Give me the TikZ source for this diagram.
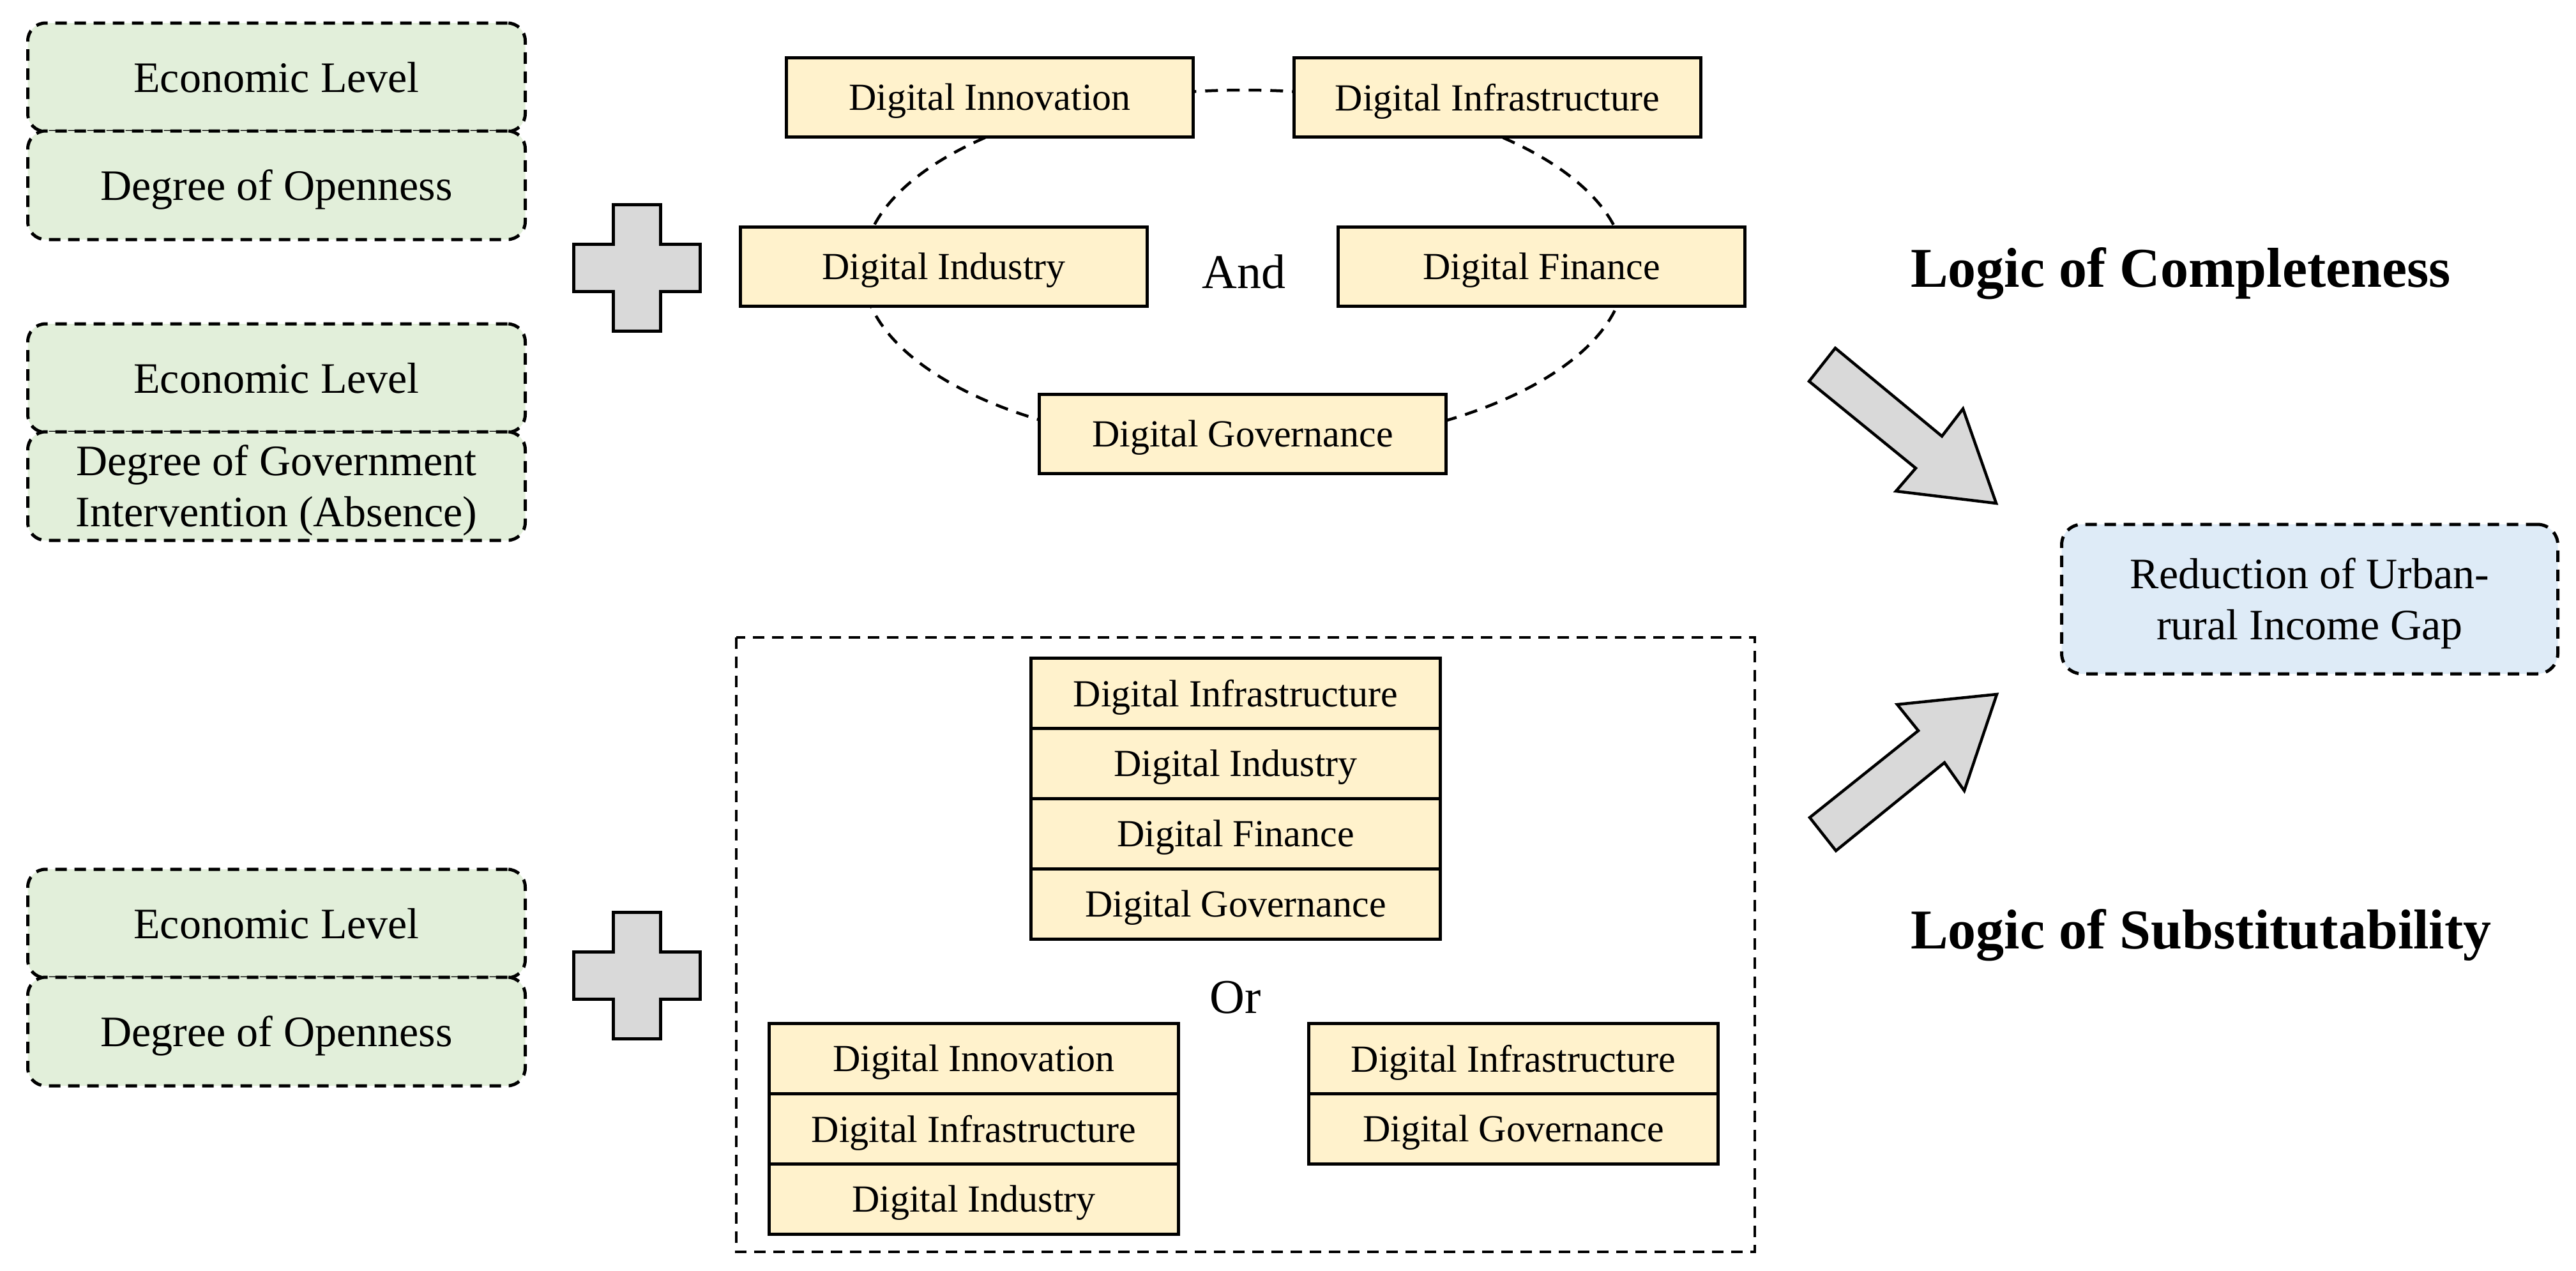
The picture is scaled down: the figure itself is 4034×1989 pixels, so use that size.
\documentclass[tikz,border=0pt]{standalone}
\usepackage{fontspec}
\setmainfont{Liberation Serif}
\definecolor{greenfill}{HTML}{E2EFDA}
\definecolor{yellowfill}{HTML}{FFF2CC}
\definecolor{bluefill}{HTML}{DEEBF7}
\definecolor{greyfill}{HTML}{D9D9D9}
\begin{document}
\begin{tikzpicture}[x=1pt,y=-1pt,
  greenbox/.style={draw, dash pattern=on 18pt off 12pt, line width=5pt, rounded corners=28pt, fill=greenfill, minimum width=779pt, minimum height=170pt, font=\fontsize{68}{80}\selectfont, align=center, inner sep=0pt, text depth=0pt},
  bluebox/.style={draw, dash pattern=on 18pt off 12pt, line width=5pt, rounded corners=32pt, fill=bluefill, minimum width=777pt, minimum height=234pt, font=\fontsize{68}{80}\selectfont, align=center, inner sep=0pt, text depth=0pt},
  ybox/.style={draw, line width=5pt, fill=yellowfill, minimum width=637pt, minimum height=124pt, font=\fontsize{60}{72}\selectfont, inner sep=0pt, text depth=0pt},
  srow/.style={ybox, minimum width=641pt, minimum height=110pt},
  bigword/.style={font=\fontsize{76}{90}\selectfont, inner sep=0pt},
  logic/.style={font=\fontsize{88}{100}\selectfont\bfseries, inner sep=0pt, anchor=west, text depth=0pt},
  plusshape/.style={draw, line width=5pt, fill=greyfill, line join=miter},
  blockarrow/.style={draw, line width=4.5pt, fill=greyfill, line join=miter},
  ring/.style={draw, line width=4.5pt, dash pattern=on 20pt off 14pt}
]
\useasboundingbox (0,0) rectangle (4034,1989);

% left green boxes
\node[greenbox] (a1) at (433,121) {Economic Level};
\node[greenbox] (a2) at (433,290) {Degree of Openness};
\node[greenbox] (b1) at (433,592) {Economic Level};
\node[greenbox] (b2) at (433,761) {Degree of Government\\Intervention (Absence)};
\node[greenbox] (c1) at (433,1446) {Economic Level};
\node[greenbox] (c2) at (433,1615) {Degree of Openness};

% plus signs
\begin{scope}[shift={(997,419)}]
\coordinate (plus1) at (0,0);
\draw[plusshape] (-37,-99) -- (37,-99) -- (37,-37) -- (99,-37) -- (99,37) -- (37,37) -- (37,99) -- (-37,99) -- (-37,37) -- (-99,37) -- (-99,-37) -- (-37,-37) -- cycle;
\end{scope}
\begin{scope}[shift={(997,1527)}]
\coordinate (plus2) at (0,0);
\draw[plusshape] (-37,-99) -- (37,-99) -- (37,-37) -- (99,-37) -- (99,37) -- (37,37) -- (37,99) -- (-37,99) -- (-37,37) -- (-99,37) -- (-99,-37) -- (-37,-37) -- cycle;
\end{scope}

% completeness ring
\coordinate (ringc) at (1948,421);
\draw[ring] (ringc) ellipse (597 and 280);
\node[ybox] (innov) at (1550,152) {Digital Innovation};
\node[ybox] (infra) at (2345,152) {Digital Infrastructure};
\node[ybox] (indus) at (1478,417) {Digital Industry};
\node[ybox] (finan) at (2414,417) {Digital Finance};
\node[ybox] (gover) at (1946,679) {Digital Governance};
\node[bigword] (and) at (1948,425) {And};

% substitutability frame
\draw[line width=4.5pt, dash pattern=on 18pt off 12pt] (1153,998) rectangle (2748,1960);
\node[srow] (s11) at (1935,1085) {Digital Infrastructure};
\node[srow] (s12) at (1935,1195) {Digital Industry};
\node[srow] (s13) at (1935,1305) {Digital Finance};
\node[srow] (s14) at (1935,1415) {Digital Governance};
\node[bigword] (or) at (1935,1562) {Or};
\node[srow] (s21) at (1525,1657) {Digital Innovation};
\node[srow] (s22) at (1525,1767) {Digital Infrastructure};
\node[srow] (s23) at (1525,1877) {Digital Industry};
\node[srow] (s31) at (2370,1657) {Digital Infrastructure};
\node[srow] (s32) at (2370,1767) {Digital Governance};

% logic labels
\node[logic] (lc) at (2992,419) {Logic of Completeness};
\node[logic] (ls) at (2992,1454) {Logic of Substitutability};

% outcome
\node[bluebox] (gap) at (3617,938) {Reduction of Urban-\\rural Income Gap};

% block arrows
\draw[blockarrow] (2874,545) -- (3041,683) -- (3074,640) -- (3126,788) -- (2969,769) -- (3000,733) -- (2833,597) -- cycle;
\draw[blockarrow] (2834,1280) -- (3004,1144) -- (2971,1103) -- (3127,1087) -- (3076,1238) -- (3045,1194) -- (2875,1332) -- cycle;
\end{tikzpicture}
\end{document}
